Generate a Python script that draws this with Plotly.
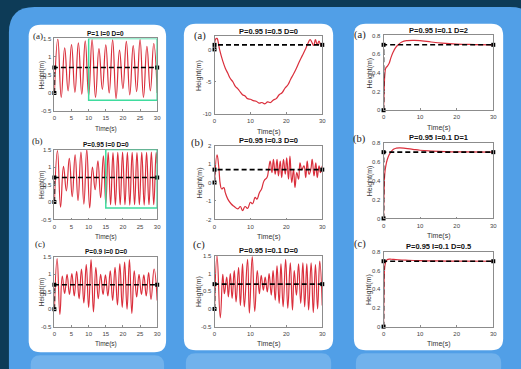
import plotly.graph_objects as go

W, H = 521, 369

# ---------------- data ----------------
ref_t = [0, 0, 30]
ref_y = [0, 0.7, 0.7]

# Left column
L1_t = [0, 1, 2, 3, 4, 5, 6, 7, 8, 9, 10, 11, 12, 13, 14, 15, 16, 17, 18, 19, 20,
        21, 22, 23, 24, 25, 26, 27, 28, 29, 30]
L1_y = [0, 1.48, -0.12, 1.24, 0.06, 1.33, 0.02, 1.38, -0.03, 1.43, -0.07, 1.47, -0.12,
        1.22, 0.10, 1.32, 0.00, 1.46, -0.15, 1.18, 0.12, 1.42, -0.05, 1.30, 0.04, 1.47,
        -0.12, 1.28, 0.06, 1.36, 0.00]

L2_t = [0, 0.9, 1.8, 2.65, 3.5, 4.35, 5.2, 6.05, 6.9, 7.75, 8.6, 9.45, 10.3, 11.1, 11.9,
        12.7, 13.5, 14.3, 15.0, 15.7, 16.4, 17.1, 17.8, 18.5, 19.2, 19.9, 20.6, 21.3, 22.0,
        22.7, 23.4, 24.1, 24.8, 25.5, 26.2, 26.9, 27.6, 28.3, 29.0, 29.7, 30]
L2_y = [0, 1.47, -0.15, 1.02, 0.32, 1.25, 0.15, 1.35, 0.04, 1.43, -0.06, 1.50, -0.17,
        1.00, 0.35, 1.18, 0.12, 1.32, -0.05, 1.42, -0.08, 1.41, -0.09, 1.42, -0.08, 1.43,
        -0.08, 1.42, -0.09, 1.42, -0.08, 1.41, -0.08, 1.42, -0.09, 1.42, -0.08, 1.43,
        -0.08, 1.42, 1.10]

L3_t = [0, 0.8, 1.6, 2.3, 3.0, 3.7, 4.4, 5.1, 5.8, 6.5, 7.2, 7.9, 8.6, 9.3, 10.0, 10.7,
        11.4, 12.1, 12.8, 13.5, 14.2, 14.9, 15.6, 16.3, 17.0, 17.7, 18.4, 19.1, 19.8, 20.5,
        21.2, 21.9, 22.6, 23.3, 24.0, 24.7, 25.4, 26.1, 26.8, 27.5, 28.2, 29.1, 30]
L3_y = [0, 1.45, -0.15, 0.95, 0.45, 1.00, 0.42, 1.02, 0.38, 1.08, 0.30, 1.15, 0.18, 1.28,
        0.05, 1.42, -0.08, 1.20, 0.30, 1.00, 0.42, 0.98, 0.38, 1.10, 0.25, 1.20, 0.12,
        1.30, 0.05, 1.35, 0.00, 1.42, -0.12, 1.10, 0.35, 1.00, 0.42, 0.98, 0.38, 1.05,
        0.28, 1.15, 0.25]

# Middle column
M1_t = [0, 0.3, 0.7, 1.0, 1.4, 2.3, 3.0, 3.7, 4.4, 5.1, 5.8, 6.5, 7.2, 7.8, 8.5, 9.2,
        10.0, 10.8, 11.6, 12.4, 13.2, 14.0, 14.8, 15.6, 16.4, 17.2, 18.0, 18.8, 19.6,
        20.4, 21.2, 22.0, 22.8, 23.6, 24.4, 25.2, 26.0, 26.6, 27.1, 27.6, 28.1, 28.6,
        29.1, 29.6, 30]
M1_y = [0, 1.6, 1.7, 1.2, 0.0, -1.8, -2.9, -3.7, -4.5, -5.0, -5.7, -6.1, -6.6, -7.0,
        -7.2, -7.6, -7.7, -7.9, -8.0, -8.3, -8.2, -8.4, -8.1, -8.2, -7.8, -7.6, -7.0,
        -6.7, -6.0, -5.5, -4.6, -3.8, -2.9, -1.9, -1.0, -0.1, 0.9, 1.5, 1.1, 0.6, 1.5,
        0.7, 1.3, 0.6, 0.9]

M2_t = [0, 0.7, 1.2, 1.6, 2.0, 2.6, 3.0, 3.7, 4.6, 5.5, 6.5, 7.2, 7.8, 8.5, 9.2, 10.0,
        10.6, 11.3, 11.8, 12.5, 13.1, 13.8, 14.6, 15.0, 15.5, 16.0, 16.4, 16.9, 17.4,
        17.8, 18.3, 18.7, 19.2, 19.7, 20.1, 20.6, 21.0, 21.5, 22.0, 22.4, 22.9, 23.4,
        23.8, 24.3, 24.9, 25.4, 25.8, 26.3, 26.8, 27.2, 27.7, 28.2, 28.6, 29.1, 29.5, 30]
M2_y = [0, 1.5, 0.8, -0.1, -0.35, -0.27, -0.55, -0.9, -1.15, -1.3, -1.43, -1.3, -1.52,
        -1.3, -1.4, -1.07, -1.15, -0.8, -0.9, -0.55, -0.35, 0.1, 0.27, 0.62, 1.16, 0.54,
        1.25, 0.45, 1.25, 0.36, 1.16, 0.27, 1.25, 0.45, 1.34, 0.18, 1.43, 0.0, 0.7,
        -0.27, 0.54, 0.18, 1.07, 0.7, 0.9, 0.27, 1.16, 0.45, 0.7, 1.25, 0.36, 1.07, 0.27,
        0.9, 0.54, 0.9]

M3_t = [0, 0.7, 1.6, 2.3, 2.75, 3.4, 3.85, 4.4, 4.9, 5.5, 6.0, 6.7, 7.2, 7.8, 8.3, 9.2,
        9.7, 10.5, 11.2, 11.9, 12.5, 13.0, 13.6, 14.1, 14.7, 15.2, 15.8, 16.3, 16.9, 17.4,
        18.0, 18.5, 19.1, 19.8, 20.4, 21.1, 21.7, 22.2, 22.8, 23.4, 24.0, 24.6, 25.1,
        25.7, 26.2, 26.9, 27.5, 28.1, 28.7, 29.3, 30]
M3_y = [0, 1.5, -0.25, 0.98, 0.43, 0.9, 0.34, 1.0, 0.3, 1.08, 0.2, 1.17, 0.1, 1.27, 0.06,
        1.4, -0.12, 1.48, -0.07, 1.08, 0.43, 0.95, 0.53, 0.9, 0.48, 1.0, 0.39, 1.08, 0.25,
        1.22, 0.16, 1.27, 0.06, 1.4, 0.02, 1.3, -0.03, 1.08, 0.39, 1.27, 0.16, 1.3, 0.06,
        1.27, -0.03, 1.3, -0.1, 1.25, 0.0, 1.35, 0.1]

# Right column
R1_t = [0, 0.15, 0.35, 0.6, 1.0, 1.5, 2.0, 2.6, 3.3, 4.0, 5.0, 6.5, 8.5, 10.5, 13, 16,
        20, 25, 30]
R1_y = [0, 0.2, 0.38, 0.45, 0.47, 0.5, 0.56, 0.62, 0.67, 0.7, 0.73, 0.745, 0.748, 0.742,
        0.73, 0.718, 0.708, 0.703, 0.7]
R2_t = [0, 0.15, 0.35, 0.6, 1.0, 1.5, 2.0, 2.7, 3.5, 4.5, 6, 8, 10, 13, 17, 22, 30]
R2_y = [0, 0.3, 0.48, 0.55, 0.62, 0.67, 0.7, 0.73, 0.742, 0.745, 0.74, 0.73, 0.72, 0.712,
        0.705, 0.702, 0.7]
R3_t = [0, 0.1, 0.25, 0.5, 0.8, 1.2, 1.8, 2.5, 4, 6, 10, 15, 20, 30]
R3_y = [0, 0.35, 0.6, 0.68, 0.71, 0.72, 0.722, 0.72, 0.716, 0.712, 0.706, 0.703, 0.701,
        0.7]

titles = ["P=1 I=0 D=0", "P=0.95 I=0 D=0", "P=0.9 I=0 D=0",
          "P=0.95 I=0.5 D=0", "P=0.95 I=0.3 D=0", "P=0.95 I=0.1 D=0",
          "P=0.95 I=0.1 D=2", "P=0.95 I=0.1 D=1", "P=0.95 I=0.1 D=0.5"]
labels = ["(a)", "(b)", "(c)"] * 3

ticks_osc = [-0.5, 0, 0.5, 1, 1.5]
ticks_osc_txt = ["-0.5", "0", "0.5", "1", "1.5"]
ticks_m1 = [-10, -5, 0]
ticks_m2 = [-2, -1, 0, 1, 2]
ticks_r = [0, 0.2, 0.4, 0.6, 0.8]
ticks_r_txt = ["0", "0.2", "0.4", "0.6", "0.8"]
xt_left = [0, 5, 10, 15, 20, 25, 30]
xt_other = [0, 10, 20, 30]

green_boxes = {0: (10, 30, -0.2, 1.5), 1: (15, 30, -0.17, 1.5)}

# ---------------- layout geometry (pixels) ----------------
def X(p):
    return p / W

def Y(p):
    return 1 - p / H

cols = [(53, 157), (215, 324), (386, 497)]
rows = [[(36, 110), (149, 220), (258, 329)],
        [(34, 113), (145, 220), (257, 329)],
        [(33, 109), (142, 219), (253, 329)]]
label_pos = [[(36, 34), (36, 140), (38, 245)],
             [(200, 34), (198, 142), (199, 246)],
             [(362, 33), (362, 138), (362, 245)]]
ylab_x = [40, 200, 372]

series = [(L1_t, L1_y), (L2_t, L2_y), (L3_t, L3_y),
          (M1_t, M1_y), (M2_t, M2_y), (M3_t, M3_y),
          (R1_t, R1_y), (R2_t, R2_y), (R3_t, R3_y)]
yranges = [[-0.5, 1.5]] * 3 + [[-10, 2], [-2, 2], [-0.5, 1.5]] + [[0, 0.8]] * 3
yticks = [(ticks_osc, ticks_osc_txt)] * 3 + \
         [(ticks_m1, [str(v) for v in ticks_m1]), (ticks_m2, [str(v) for v in ticks_m2]),
          (ticks_osc, ticks_osc_txt)] + [(ticks_r, ticks_r_txt)] * 3

RED = "#da2f3c"
fig = go.Figure()
layout = dict(width=W, height=H, margin=dict(l=0, r=0, t=0, b=0),
              paper_bgcolor="#0d3b57", plot_bgcolor="white", showlegend=False)

annotations = []
shapes = []

def rrect(x0, y0, x1, y1, r):
    return (f"M {X(x0+r)},{Y(y0)} L {X(x1-r)},{Y(y0)} Q {X(x1)},{Y(y0)} {X(x1)},{Y(y0+r)} "
            f"L {X(x1)},{Y(y1-r)} Q {X(x1)},{Y(y1)} {X(x1-r)},{Y(y1)} "
            f"L {X(x0+r)},{Y(y1)} Q {X(x0)},{Y(y1)} {X(x0)},{Y(y1-r)} "
            f"L {X(x0)},{Y(y0+r)} Q {X(x0)},{Y(y0)} {X(x0+r)},{Y(y0)} Z")

# background panels
shapes.append(dict(type="path", xref="paper", yref="paper", layer="below",
                   path=rrect(7, 4, 540, 395, 26), fillcolor="#519fe7", line=dict(width=0)))
whites = [(27, 22, 166, 355), (184, 21, 335, 353), (356, 21, 507, 353)]
for (a, b, c, d) in whites:
    shapes.append(dict(type="path", xref="paper", yref="paper", layer="below",
                       path=rrect(a, b, c, d, 12), fillcolor="white", line=dict(width=0)))
    shapes.append(dict(type="path", xref="paper", yref="paper", layer="below",
                       path=rrect(a + 2, d + 3, c - 2, 380, 10),
                       fillcolor="rgba(190,222,250,0.3)", line=dict(width=0)))

tickfont_small = dict(size=6, color="#444", family="Liberation Sans Narrow, Liberation Sans, Arial")

for i in range(9):
    c, r = divmod(i, 3)
    n = i + 1
    xa = "x" if n == 1 else f"x{n}"
    ya = "y" if n == 1 else f"y{n}"
    xl, xr = cols[c]
    yt, yb = rows[c][r]
    t, y = series[i]
    fig.add_trace(go.Scatter(x=t, y=y, xaxis=xa, yaxis=ya, mode="lines",
                             line=dict(color=RED, width=1.2, shape="spline", smoothing=1.3)))
    fig.add_trace(go.Scatter(x=ref_t, y=ref_y, xaxis=xa, yaxis=ya, mode="lines+markers",
                             line=dict(color="black", width=1.6, dash="5px,3px"),
                             marker=dict(symbol="square", size=4, color="black"),
                             cliponaxis=False))
    axstyle = dict(showline=True, linecolor="#8c8c8c", linewidth=0.8, mirror=True,
                   ticks="inside", ticklen=2, tickcolor="#8c8c8c", showgrid=False,
                   zeroline=False, tickfont=tickfont_small, fixedrange=True)
    xkey = "xaxis" if n == 1 else f"xaxis{n}"
    ykey = "yaxis" if n == 1 else f"yaxis{n}"
    layout[xkey] = dict(axstyle, domain=[X(xl), X(xr)], anchor=ya, range=[0, 30],
                        tickvals=xt_left if c == 0 else xt_other, ticklabelstandoff=1)
    tv, tt = yticks[i]
    layout[ykey] = dict(axstyle, domain=[Y(yb), Y(yt)], anchor=xa, range=yranges[i],
                        tickvals=tv, ticktext=tt, ticklabelstandoff=1)

    fsz = 6.5 if c == 0 else 7.5
    annotations.append(dict(xref="paper", yref="paper", x=X((xl + xr) / 2), y=Y(yt - 5),
                            text=f"<b>{titles[i]}</b>", showarrow=False,
                            font=dict(size=fsz, color="#111",
                                      family="Liberation Sans Narrow, Liberation Sans, Arial"),
                            xanchor="center", yanchor="middle"))
    lx, ly = label_pos[c][r]
    annotations.append(dict(xref="paper", yref="paper", x=X(lx), y=Y(ly), text=labels[i],
                            showarrow=False, xanchor="center", yanchor="middle",
                            font=dict(size=9 if c == 0 else 10.5, color="#222",
                                      family="Liberation Serif, Times New Roman, serif")))
    annotations.append(dict(xref="paper", yref="paper", x=X((xl + xr) / 2), y=Y(yb + 18),
                            text="Time(s)", showarrow=False, xanchor="center",
                            yanchor="middle",
                            font=dict(size=6.5 if c == 0 else 7, color="#333",
                                      family="Liberation Sans Narrow, Liberation Sans, Arial")))
    annotations.append(dict(xref="paper", yref="paper", x=X(ylab_x[c]), y=Y((yt + yb) / 2),
                            text="Height(m)", showarrow=False, textangle=-90,
                            xanchor="center", yanchor="middle",
                            font=dict(size=6.5 if c == 0 else 7, color="#333",
                                      family="Liberation Sans Narrow, Liberation Sans, Arial")))
    if i in green_boxes:
        x0, x1, y0, y1 = green_boxes[i]
        shapes.append(dict(type="rect", xref=xa, yref=ya, x0=x0, x1=x1, y0=y0, y1=y1,
                           line=dict(color="#3fdc9e", width=1.5), layer="above"))

layout["annotations"] = annotations
layout["shapes"] = shapes
fig.update_layout(**layout)
fig.write_html("out.html")
